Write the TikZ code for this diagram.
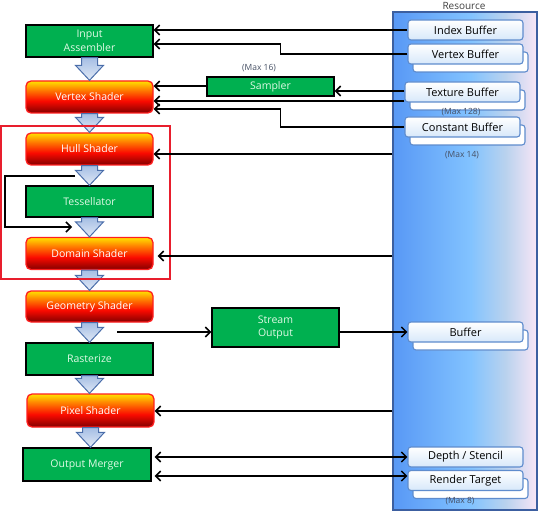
\documentclass[tikz,border=0pt]{standalone}
\usepackage{fontspec}
\setmainfont{Open Sans}
\usetikzlibrary{arrows.meta,calc,shadows}
\definecolor{grn}{RGB}{0,176,80}
\definecolor{gtext}{RGB}{225,250,230}
\definecolor{sdark}{RGB}{130,0,0}
\definecolor{sred}{RGB}{250,10,0}
\definecolor{sorange}{RGB}{255,130,0}
\definecolor{syellow}{RGB}{255,225,0}
\definecolor{sborder}{RGB}{255,30,30}
\definecolor{rblue}{RGB}{88,152,245}
\definecolor{rlight}{RGB}{130,195,255}
\definecolor{rmid}{RGB}{185,210,238}
\definecolor{rpink}{RGB}{248,230,246}
\definecolor{rborder}{RGB}{60,95,160}
\definecolor{bborder}{RGB}{95,140,205}
\definecolor{bbot}{RGB}{215,232,250}
\definecolor{fatborder}{RGB}{75,110,170}
\definecolor{fattop}{RGB}{165,190,228}
\definecolor{fatbot}{RGB}{225,233,246}
\definecolor{frame}{RGB}{232,30,45}
\definecolor{maxc}{RGB}{70,80,100}
\pgfdeclareverticalshading{shaderfill}{100bp}{color(0bp)=(sdark); color(25bp)=(sdark); color(44bp)=(sred); color(62bp)=(sorange); color(75bp)=(syellow); color(100bp)=(syellow)}
\pgfdeclarehorizontalshading{resfill}{100bp}{color(0bp)=(rblue); color(25bp)=(rblue); color(52bp)=(rlight); color(64bp)=(rmid); color(75bp)=(rpink); color(100bp)=(rpink)}
\newcommand\lblfont{\fontsize{10.5}{13.5}\selectfont}
\newcommand\buflblfont{\fontsize{11}{13}\selectfont}
\newcommand\smallfont{\fontsize{8.5}{10}\selectfont}
\tikzset{
  stagebox/.style={minimum width=127pt, minimum height=32pt, inner sep=0pt, align=center, font=\lblfont},
  greenbox/.style={stagebox, draw=black, line width=1.3pt, fill=grn, text=gtext},
  shaderbox/.style={stagebox, draw=sborder, line width=1.3pt, rounded corners=5pt, shading=shaderfill, text=white},
  bufbox/.style={draw=bborder, line width=1.1pt, rounded corners=3pt, top color=white, bottom color=bbot, minimum width=115pt, minimum height=20pt, inner sep=0pt, font=\buflblfont, text=black},
  stacked/.style={copy shadow={shadow xshift=5pt, shadow yshift=-8pt, fill=white, draw=bborder, line width=1.1pt}},
  tip/.tip={Straight Barb[length=5pt,width=10pt,line width=1.5pt]},
  conn/.style={draw=black, line width=1.5pt, -tip},
  dconn/.style={draw=black, line width=1.5pt, tip-tip},
  fatarrow/.style={draw=fatborder, line width=1pt, top color=fattop, bottom color=fatbot, line join=miter},
  maxlabel/.style={font=\smallfont, text=maxc, inner sep=0pt}
}
\newcommand\fatarr[2]{%
  \path[fatarrow] let \p1=(#1.south), \p2=(#2.north) in
    (\x1-8pt,\y1) -- (\x1+8pt,\y1) -- (\x1+8pt,\y2+15pt) -- (\x1+14pt,\y2+15pt)
    -- (\x1,\y2) -- (\x1-14pt,\y2+15pt) -- (\x1-8pt,\y2+15pt) -- cycle;}
\begin{document}
\begin{tikzpicture}[x=1pt,y=-1pt]
\useasboundingbox (0,0) rectangle (550,519);
% resource panel
\node[draw=rborder, line width=1.2pt, shading=resfill, minimum width=144pt, minimum height=498pt, inner sep=0pt] (res) at (465,261) {};
\node[font=\fontsize{10}{12}\selectfont, text=black!75, inner sep=0pt] (reslbl) at (464,6) {Resource};
% buffers
\node[bufbox] (idx) at (465.5,30) {Index Buffer};
\node[bufbox, stacked] (vb) at (465.5,54) {Vertex Buffer};
\node[bufbox, stacked] (tb) at (462.5,92) {Texture Buffer};
\node[maxlabel] (m128) at (461,112) {(Max 128)};
\node[bufbox, stacked] (cb) at (462.5,127) {Constant Buffer};
\node[maxlabel] (m14) at (462,155) {(Max 14)};
\node[bufbox, stacked] (buf) at (465.5,332) {Buffer};
\node[bufbox] (dsb) at (465.5,457) {Depth / Stencil};
\node[bufbox, stacked] (rt) at (465.5,480.5) {Render Target};
\node[maxlabel] (m8) at (460,501) {(Max 8)};
% pipeline stages
\node[greenbox] (ia) at (89.5,41) {Input\\Assembler};
\node[shaderbox] (vs) at (89.5,97) {Vertex Shader};
\node[shaderbox] (hull) at (89.5,149) {Hull Shader};
\node[greenbox, minimum height=31pt] (tess) at (89.5,201.5) {Tessellator};
\node[shaderbox] (ds) at (89.5,253.5) {Domain Shader};
\node[shaderbox, minimum height=31pt] (gs) at (89.5,306.5) {Geometry Shader};
\node[greenbox] (ras) at (89.5,359) {Rasterize};
\node[shaderbox, minimum height=33pt] (ps) at (90.5,410.5) {Pixel Shader};
\node[greenbox, minimum width=128pt, minimum height=33pt] (om) at (87,464.5) {Output Merger};
\node[greenbox, minimum height=19pt] (samp) at (270.5,86.5) {Sampler};
\node[maxlabel] (m16) at (259,68) {(Max 16)};
\node[greenbox, minimum height=39pt] (so) at (275.5,327.5) {Stream\\Output};
% fat arrows
\fatarr{ia}{vs}
\fatarr{vs}{hull}
\fatarr{hull}{tess}
\fatarr{tess}{ds}
\fatarr{ds}{gs}
\fatarr{gs}{ras}
\fatarr{ras}{ps}
\fatarr{ps}{om}
% red frame
\draw[frame, line width=2.5pt] (1,126) rectangle (170,279);
% tessellator loop
\coordinate (loopa) at (75,176);
\coordinate (loopb) at (72,227);
\draw[conn, line width=1.4pt] (loopa) -- (5,176) -- (5,227) -- (loopb);
% connectors
\draw[conn] (idx.west) -- (idx.west -| ia.east);
\draw[conn] (vb.west) -- ++(-127,0) |- ([yshift=-3pt]ia.east);
\draw[conn] ([yshift=1pt]tb.west) -- ([yshift=1pt]tb.west -| samp.east);
\draw[conn] ($(samp.west)+(0,-0.5)$) -- ($(samp.west -| vs.east)+(0,-0.5)$);
\draw[conn] ([yshift=-9pt]tb.west) -- ([yshift=-9pt]tb.west -| vs.east);
\draw[conn] (cb.west) -- ++(-124,0) |- ([yshift=-12pt]vs.east);
\draw[conn] ($(hull.east -| res.west)+(0,5)$) -- ($(hull.east)+(0,5)$);
\draw[conn, shorten >=4pt] ($(ds.east -| res.west)+(0,2.5)$) -- ($(ds.east)+(0,2.5)$);
\draw[conn] ($(ps.east -| res.west)+(0,0.5)$) -- ($(ps.east)+(0,0.5)$);
\coordinate (gsout) at (117,332);
\draw[conn] (gsout) -- (gsout -| so.west);
\draw[conn] (so.east |- buf.west) -- (buf.west);
\draw[dconn, shorten <=3pt] (om.east |- dsb.west) -- (dsb.west);
\coordinate (rtin) at ($(rt.west)+(0,-4.5)$);
\draw[dconn, shorten <=3pt] (rtin -| om.east) -- (rtin);
\end{tikzpicture}
\end{document}
